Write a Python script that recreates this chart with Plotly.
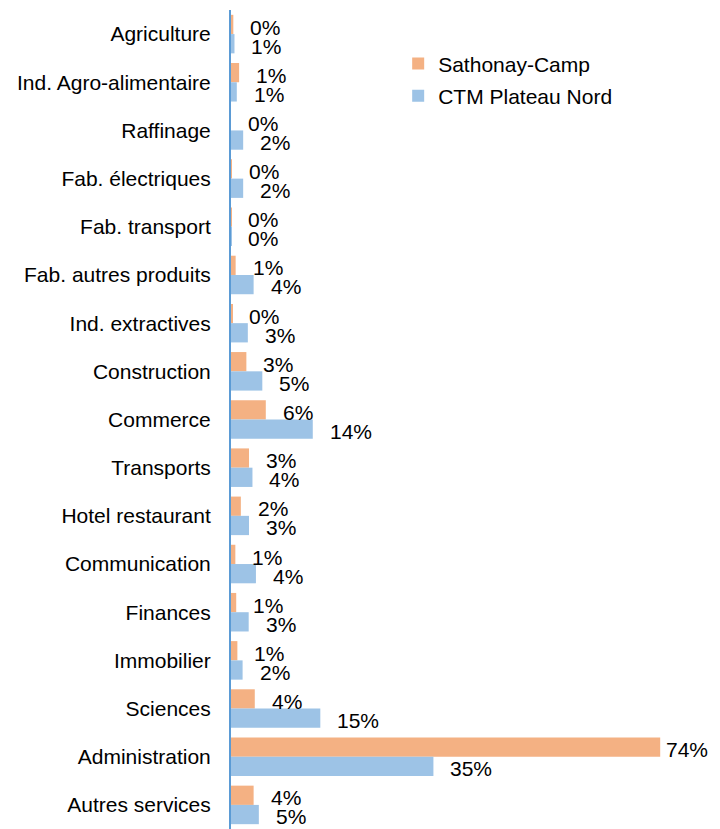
import plotly.graph_objects as go

categories = ["Agriculture", "Ind. Agro-alimentaire", "Raffinage", "Fab. électriques",
              "Fab. transport", "Fab. autres produits", "Ind. extractives", "Construction",
              "Commerce", "Transports", "Hotel restaurant", "Communication", "Finances",
              "Immobilier", "Sciences", "Administration", "Autres services"]
sathonay = [0.4, 1.4, 0.0, 0.1, 0.05, 0.8, 0.2, 2.65, 6.0, 3.1, 1.7, 0.75, 0.9, 1.1, 4.1, 74.0, 3.9]
ctm = [0.6, 1.0, 2.1, 2.1, 0.05, 3.9, 2.9, 5.4, 14.1, 3.7, 3.1, 4.3, 3.05, 2.0, 15.4, 34.9, 4.8]
series_names = ["Sathonay-Camp", "CTM Plateau Nord"]
colors = ["#F4B183", "#9DC3E6"]

FONT = "Liberation Sans, Arial, sans-serif"
X_MAX = 80

fig = go.Figure()
for name, vals, col, grp in zip(series_names, [sathonay, ctm], colors, ["a", "b"]):
    fig.add_trace(go.Bar(
        y=categories, x=vals, name=name, orientation="h",
        marker=dict(color=col, line=dict(width=0)),
        legendgroup=grp,
    ))

annotations = []
for vals, yshift in zip([sathonay, ctm], [7, -12]):
    for cat, v in zip(categories, vals):
        # labels near the right edge are pulled in closer to their bar
        shift = 4 if v > 0.85 * X_MAX else 15
        annotations.append(dict(
            x=v, y=cat, xref="x", yref="y", text=f"{v:.0f}%",
            showarrow=False, xanchor="left", yanchor="middle",
            xshift=shift, yshift=yshift,
            font=dict(family=FONT, size=21, color="#000000"),
        ))

fig.update_layout(
    width=712, height=821,
    margin=dict(l=223, r=25, t=2, b=0, autoexpand=False),
    paper_bgcolor="white", plot_bgcolor="white",
    barmode="group", bargap=0.2, bargroupgap=0,
    font=dict(family=FONT, size=21, color="#000000"),
    showlegend=True,
    legend=dict(
        xref="container", yref="container", x=0.548, y=0.957,
        xanchor="left", yanchor="top",
        font=dict(family=FONT, size=21, color="#000000"),
        tracegroupgap=2, bgcolor="rgba(0,0,0,0)",
        itemwidth=30,
    ),
    annotations=annotations,
    xaxis=dict(range=[0, X_MAX], autorange=False, visible=True, showticklabels=False,
               showline=False, ticks="", showgrid=False, zeroline=False, automargin=False),
    yaxis=dict(
        range=[len(categories) - 0.5, -0.5], autorange=False,
        showline=True, linecolor="#5B9BD5", linewidth=2, automargin=False,
        showgrid=False, zeroline=False, ticks="", ticklabelstandoff=14,
        tickfont=dict(family=FONT, size=21, color="#000000"),
    ),
)

fig.write_html("out.html")
